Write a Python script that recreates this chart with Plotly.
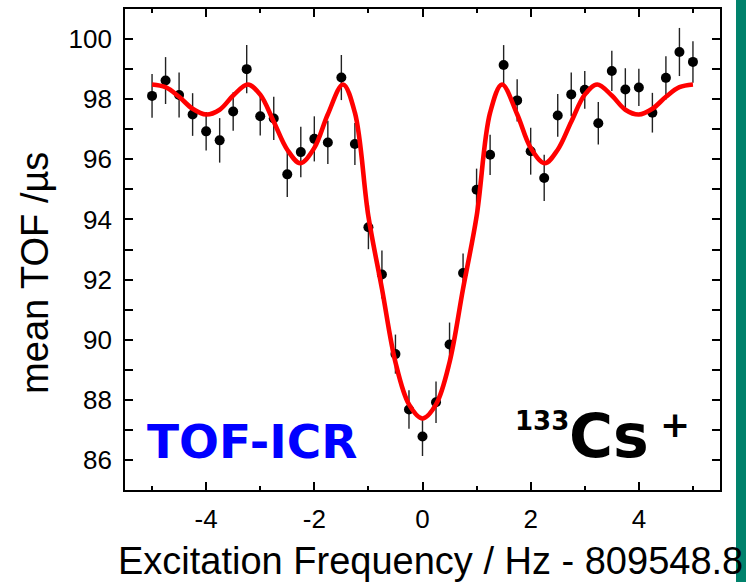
import plotly.graph_objects as go

# ---- data ----
freq = [-5.0, -4.75, -4.5, -4.25, -4.0, -3.75, -3.5, -3.25, -3.0, -2.75, -2.5,
        -2.25, -2.0, -1.75, -1.5, -1.25, -1.0, -0.75, -0.5, -0.25, 0.0,
        0.25, 0.5, 0.75, 1.0, 1.25, 1.5, 1.75, 2.0, 2.25, 2.5,
        2.75, 3.0, 3.25, 3.5, 3.75, 4.0, 4.25, 4.5, 4.75, 5.0]
tof = [98.11, 98.62, 98.14, 97.49, 96.93, 96.63, 97.59, 99.00, 97.43, 97.36, 95.50,
       96.24, 96.68, 96.56, 98.72, 96.51, 93.74, 92.17, 89.52, 87.68, 86.78,
       87.92, 89.84, 92.22, 94.99, 96.15, 99.14, 97.96, 96.27, 95.38, 97.46,
       98.16, 98.31, 97.20, 98.94, 98.32, 98.39, 97.55, 98.71, 99.57, 99.24]
tof_err = [0.73, 0.78, 0.75, 0.71, 0.64, 0.74, 0.64, 0.80, 0.64, 0.72, 0.75,
           0.84, 0.75, 0.72, 0.75, 0.70, 0.73, 0.80, 0.65, 0.64, 0.65,
           0.69, 0.73, 0.65, 0.70, 0.67, 0.66, 0.70, 0.78, 0.77, 0.71,
           0.73, 0.63, 0.71, 0.67, 0.71, 0.62, 0.66, 0.72, 0.80, 0.69]

fit_x = [-5.0, -4.75, -4.5, -4.25, -4.0, -3.75, -3.5, -3.23, -3.0, -2.75, -2.5,
         -2.26, -2.0, -1.75, -1.47, -1.25, -1.0, -0.75, -0.5, -0.25, 0.0,
         0.25, 0.5, 0.75, 1.0, 1.25, 1.47, 1.75, 2.0, 2.26, 2.5,
         2.75, 3.0, 3.23, 3.5, 3.75, 4.0, 4.25, 4.5, 4.75, 5.0]
fit_y = [98.49, 98.40, 98.08, 97.68, 97.49, 97.65, 98.12, 98.49, 98.15, 97.25, 96.32,
         95.87, 96.38, 97.50, 98.49, 97.55, 94.10, 91.70, 89.25, 87.85, 87.38,
         87.85, 89.25, 91.70, 94.10, 97.55, 98.49, 97.50, 96.38, 95.87, 96.32,
         97.25, 98.15, 98.49, 98.12, 97.65, 97.49, 97.68, 98.08, 98.40, 98.49]

x_ticks = [-4, -2, 0, 2, 4]
y_ticks = [86, 88, 90, 92, 94, 96, 98, 100]

fig = go.Figure()

fig.add_trace(go.Scatter(
    x=freq, y=tof, mode="markers",
    marker=dict(color="black", size=10),
    error_y=dict(type="data", array=tof_err, visible=True,
                 color="#222222", thickness=1.4, width=0),
    showlegend=False,
))

fig.add_trace(go.Scatter(
    x=fit_x, y=fit_y, mode="lines",
    line=dict(color="#ff0000", width=4.6, shape="spline", smoothing=1.0),
    showlegend=False,
))

axis_font = dict(family="Liberation Sans, Arial, sans-serif", size=26, color="black")

fig.update_xaxes(
    range=[-5.5, 5.5], tickvals=x_ticks, ticktext=[str(v) for v in x_ticks],
    ticks="inside", ticklen=8, tickwidth=1.5, tickcolor="black",
    minor=dict(dtick=1, tick0=0, ticks="inside", ticklen=4, tickwidth=1.5, tickcolor="black"),
    showline=True, linecolor="black", linewidth=1.8, mirror="allticks",
    showgrid=False, zeroline=False, tickfont=axis_font,
    ticklabelstandoff=5,
)
fig.update_yaxes(
    range=[85, 101], tickvals=y_ticks, ticktext=[str(v) for v in y_ticks],
    ticks="inside", ticklen=8, tickwidth=1.5, tickcolor="black",
    minor=dict(dtick=1, tick0=0, ticks="inside", ticklen=8, tickwidth=1.5, tickcolor="black"),
    showline=True, linecolor="black", linewidth=1.8, mirror="allticks",
    showgrid=False, zeroline=False, tickfont=axis_font,
    ticklabelstandoff=6,
)

L, R, T, B = 125, 26, 7, 92
W, H = 746, 582
pw, ph = W - L - R, H - T - B


def px_x(p):
    return (p - L) / pw


def px_y(p):
    return (H - B - p) / ph


def label(text, cx, cy, size, color="black", family="Liberation Sans, Arial, sans-serif", angle=0):
    fig.add_annotation(text=text, xref="paper", yref="paper",
                       x=px_x(cx), y=px_y(cy), xanchor="center", yanchor="middle",
                       showarrow=False, textangle=angle,
                       font=dict(family=family, size=size, color=color))


label("Excitation Frequency / Hz - 809548.8", 431, 561, 38)
label("mean TOF /\u00b5s", 35, 272, 38, angle=-90)
label("<b>TOF-ICR</b>", 252, 441, 47, color="#0000ff", family="DejaVu Sans")
label("<b>133</b>", 542, 421, 26, family="DejaVu Sans")
label("<b>Cs</b>", 609, 436, 60, family="DejaVu Sans")
label("<b>+</b>", 675, 424, 36, family="DejaVu Sans")

fig.add_shape(type="rect", xref="paper", yref="paper",
              x0=px_x(736), x1=px_x(760), y0=px_y(600), y1=px_y(-20),
              fillcolor="#00826c", line=dict(width=0), layer="below")

fig.update_layout(
    width=W, height=H,
    margin=dict(l=L, r=R, t=T, b=B),
    paper_bgcolor="white", plot_bgcolor="white",
    showlegend=False,
)

fig.write_html("out.html")
